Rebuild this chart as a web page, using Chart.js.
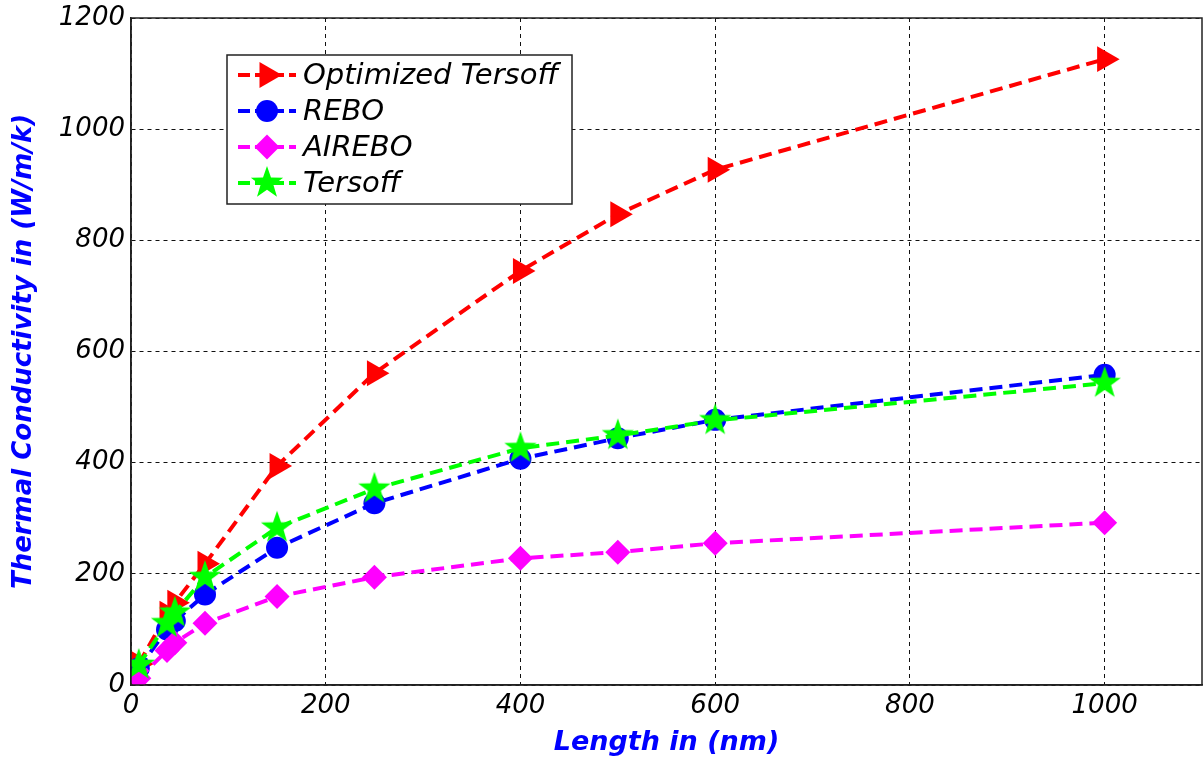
<!DOCTYPE html>
<html>
<head>
<meta charset="utf-8">
<script src="https://cdn.jsdelivr.net/npm/chart.js@4"></script>
<style>
  html, body { margin: 0; padding: 0; background: #fff; overflow: hidden; }
  #wrap { width: 1203px; height: 762px; }
  #chart { display: block; }
</style>
</head>
<body>
<div id="wrap"><canvas id="chart" width="1203" height="762"></canvas></div>
<script>
// data
const lengths = [8, 37, 45, 76, 150, 250, 400, 500, 600, 1000];
const optTersoff = [38, 128, 148, 218, 394, 561, 745, 847, 927, 1126];
const rebo = [30, 100, 115, 163, 247, 327, 407, 444, 477, 558];
const airebo = [12, 62, 76, 111, 159, 194, 228, 239, 255, 292];
const tersoff = [36, 111, 130, 194, 283, 353, 426, 449, 476, 543];
const seriesNames = ["Optimized Tersoff", "REBO", "AIREBO", "Tersoff"];
const xTicks = [0, 200, 400, 600, 800, 1000];
const yTicks = [0, 200, 400, 600, 800, 1000, 1200];

const dash = [13, 7];

// big markers would otherwise push the plot area in from the right edge
Chart.LineController.prototype.getMaxOverflow = function () { return 0; };

// filled five point star, like matlab's pentagram marker
function makeStar(color, R) {
    const c = document.createElement("canvas");
    const s = Math.ceil(R * 2) + 2;
    c.width = c.height = s;
    const g = c.getContext("2d");
    g.fillStyle = color;
    g.beginPath();
    for (let i = 0; i < 10; i++) {
        const r = i % 2 ? R * 0.4 : R;
        const a = -Math.PI / 2 + i * Math.PI / 5;
        g.lineTo(s / 2 + r * Math.cos(a), s / 2 + r * Math.sin(a));
    }
    g.closePath();
    g.fill();
    return c;
}
const greenStar = makeStar("#00ff00", 17);

const toPts = arr => arr.map((v, i) => ({ x: lengths[i], y: v }));

const styles = [
    { color: "#ff0000", pointStyle: "triangle", rotation: 90, radius: 15, order: 4 },
    { color: "#0000ff", pointStyle: "circle", rotation: 0, radius: 11, order: 3 },
    { color: "#ff00ff", pointStyle: "rectRot", rotation: 0, radius: 12.5, order: 2 },
    { color: "#00ff00", pointStyle: greenStar, rotation: 0, radius: 17, order: 1 }
];
const allSeries = [optTersoff, rebo, airebo, tersoff];

const datasets = allSeries.map((s, i) => ({
    label: seriesNames[i],
    data: toPts(s),
    borderColor: styles[i].color,
    backgroundColor: styles[i].color,
    borderWidth: 4,
    borderDash: dash,
    pointStyle: styles[i].pointStyle,
    pointRotation: styles[i].rotation,
    pointRadius: styles[i].radius,
    pointBorderWidth: 0,
    pointHoverRadius: styles[i].radius,
    tension: 0,
    order: styles[i].order
}));

// solid box round the plot area
const frame = {
    id: "frame",
    afterDraw(chart) {
        const { ctx, chartArea: a } = chart;
        ctx.save();
        ctx.strokeStyle = "#222";
        ctx.lineWidth = 1.5;
        ctx.strokeRect(a.left, a.top, a.right - a.left, a.bottom - a.top);
        ctx.restore();
    }
};

// boxed legend in the upper left, drawn by hand
const boxLegend = {
    id: "boxLegend",
    afterDraw(chart) {
        const ctx = chart.ctx;
        const bx = 227, by = 55, bw = 345, bh = 149;
        ctx.save();
        ctx.fillStyle = "#fff";
        ctx.fillRect(bx, by, bw, bh);
        ctx.strokeStyle = "#222";
        ctx.lineWidth = 1.5;
        ctx.strokeRect(bx, by, bw, bh);
        chart.data.datasets.forEach((ds, i) => {
            const y = 75 + i * 36;
            const st = styles[i];
            ctx.strokeStyle = st.color;
            ctx.lineWidth = 4;
            ctx.setLineDash([12, 5]);
            ctx.beginPath();
            ctx.moveTo(238, y);
            ctx.lineTo(296, y);
            ctx.stroke();
            ctx.setLineDash([]);
            ctx.fillStyle = st.color;
            Chart.helpers.drawPoint(ctx, {
                pointStyle: st.pointStyle,
                rotation: st.rotation,
                radius: st.radius,
                borderWidth: 0
            }, 267, y);
            ctx.fillStyle = "#000";
            ctx.font = "italic 29px 'DejaVu Sans'";
            ctx.textBaseline = "middle";
            ctx.fillText(ds.label, 303, y + 1);
        });
        ctx.restore();
    }
};

const tickFont = { family: "'DejaVu Sans'", size: 26, style: "italic" };

new Chart(document.getElementById("chart"), {
    type: "line",
    data: { datasets },
    options: {
        responsive: false,
        animation: false,
        layout: { padding: { top: 18, right: 1, left: 0, bottom: 0 } },
        plugins: { legend: { display: false }, tooltip: { enabled: false } },
        scales: {
            x: {
                type: "linear",
                min: 0,
                max: 1100,
                afterBuildTicks: s => { s.ticks = xTicks.map(v => ({ value: v })); },
                afterFit: s => { s.height = 77; s.paddingLeft = 0; s.paddingRight = 0; },
                ticks: { color: "#000", font: tickFont, padding: 6, maxRotation: 0, callback: v => String(v) },
                grid: { color: "#111", lineWidth: 1, drawTicks: false },
                border: { display: true, color: "#222", width: 1.5, dash: [4, 4] },
                title: {
                    display: true,
                    text: "Length in (nm)",
                    color: "#0000ff",
                    font: { family: "'DejaVu Sans'", size: 27, style: "italic", weight: "bold" },
                    padding: { top: 0, bottom: 3 }
                }
            },
            y: {
                min: 0,
                max: 1200,
                afterBuildTicks: s => { s.ticks = yTicks.map(v => ({ value: v })); },
                afterFit: s => { s.width = 131; s.paddingTop = 0; s.paddingBottom = 0; },
                ticks: { color: "#000", font: tickFont, padding: 6, callback: v => String(v) },
                grid: { color: "#111", lineWidth: 1, drawTicks: false },
                border: { display: true, color: "#222", width: 1.5, dash: [4, 4] },
                title: {
                    display: true,
                    text: "Thermal Conductivity in (W/m/k)",
                    color: "#0000ff",
                    font: { family: "'DejaVu Sans'", size: 26, style: "italic", weight: "bold" },
                    padding: { top: 9, bottom: 0 }
                }
            }
        }
    },
    plugins: [frame, boxLegend]
});
</script>
</body>
</html>
